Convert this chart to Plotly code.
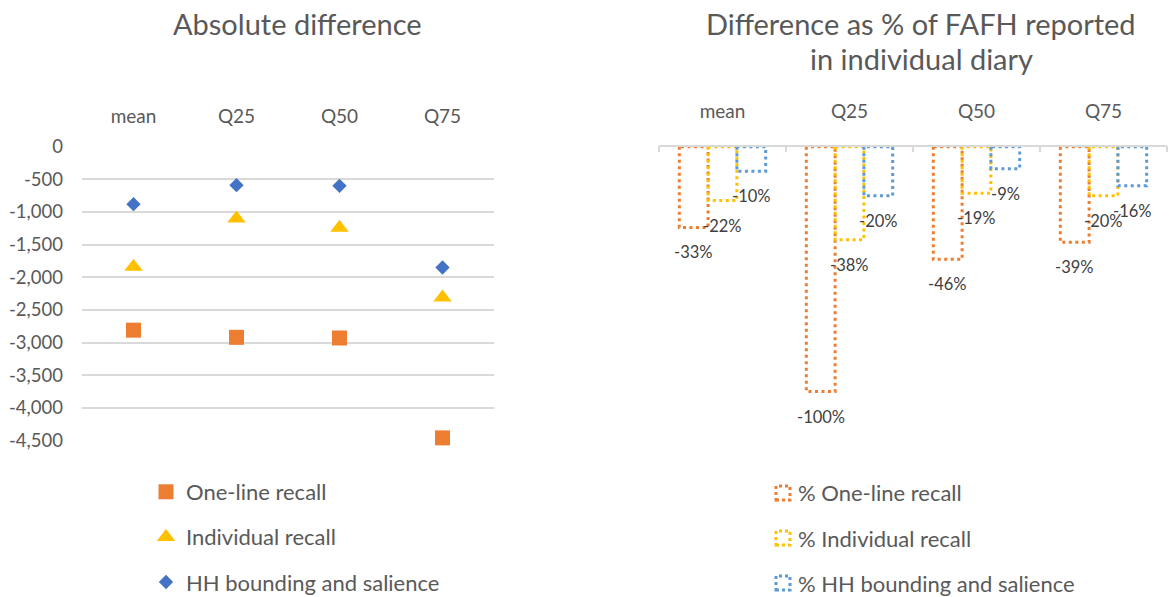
import plotly.graph_objects as go

# ---- data -------------------------------------------------------------
CATEGORIES = ["mean", "Q25", "Q50", "Q75"]

# absolute difference (left panel)
ABS_SERIES_NAMES = ["One-line recall", "Individual recall", "HH bounding and salience"]
ONE_LINE_ABS = [-2810, -2920, -2930, -4460]
INDIVIDUAL_ABS = [-1840, -1100, -1240, -2310]
HH_ABS = [-880, -590, -600, -1850]

ABS_TICK_VALUES = [0, -500, -1000, -1500, -2000, -2500, -3000, -3500, -4000, -4500]
ABS_TICK_LABELS = ["0", "-500", "-1,000", "-1,500", "-2,000", "-2,500",
                   "-3,000", "-3,500", "-4,000", "-4,500"]

# difference as % of FAFH reported in the individual diary (right panel)
PCT_SERIES_NAMES = ["% One-line recall", "% Individual recall", "% HH bounding and salience"]
ONE_LINE_PCT = [-33, -100, -46, -39]
INDIVIDUAL_PCT = [-22, -38, -19, -20]
HH_PCT = [-10, -20, -9, -16]

# ---- styling ----------------------------------------------------------
W, H = 1175, 597
FONT = "Lato"
TEXT = "#595959"
LABEL = "#404040"
GRID = "#D9D9D9"

ABS_COLORS = ["#ED7D31", "#FFC000", "#4472C4"]
ABS_SYMBOLS = ["square", "triangle-up", "diamond"]
ABS_SIZES = [15, 16, 11]
PCT_COLORS = ["#ED7D31", "#FFC000", "#5B9BD5"]

BAR_GAP = 0.32
N_SERIES = 3
BAR_W = (1 - BAR_GAP) / N_SERIES


def px_x(p):
    return p / W


def px_y(p):
    return 1 - p / H


PLOT_TOP, PLOT_BOTTOM = 146.7, 440.5

fig = go.Figure()

# ---- left panel: markers ----------------------------------------------
for name, vals, col, sym, size in zip(ABS_SERIES_NAMES,
                                      [ONE_LINE_ABS, INDIVIDUAL_ABS, HH_ABS],
                                      ABS_COLORS, ABS_SYMBOLS, ABS_SIZES):
    fig.add_trace(go.Scatter(
        x=CATEGORIES, y=vals, name=name, mode="markers",
        marker=dict(symbol=sym, size=size, color=col, line=dict(width=0)),
        xaxis="x", yaxis="y", cliponaxis=False, legendgroup=name,
    ))

# ---- right panel: dotted outline bars ----------------------------------
pct_series = [ONE_LINE_PCT, INDIVIDUAL_PCT, HH_PCT]
annotations = []
for k, (name, vals, col) in enumerate(zip(PCT_SERIES_NAMES, pct_series, PCT_COLORS)):
    xs, ys = [], []
    for i, v in enumerate(vals):
        xc = i + (k - (N_SERIES - 1) / 2) * BAR_W
        x0, x1 = xc - BAR_W / 2, xc + BAR_W / 2
        xs += [x0, x0, x1, x1, x0, None]
        ys += [0, v, v, 0, 0, None]
        annotations.append(dict(
            x=xc, y=v, xref="x2", yref="y2", text=f"{v}%", showarrow=False,
            yshift=-25, xanchor="center", yanchor="middle",
            font=dict(family=FONT, size=16.5, color=LABEL),
        ))
    fig.add_trace(go.Scatter(
        x=xs, y=ys, name=name, mode="lines", showlegend=False,
        line=dict(color=col, width=3, dash="3px,3.5px"),
        xaxis="x2", yaxis="y2", cliponaxis=False,
    ))

# ---- titles ----------------------------------------------------------
annotations += [
    dict(text="Absolute difference", x=px_x(297), y=px_y(23), xref="paper", yref="paper",
         showarrow=False, xanchor="center", yanchor="middle",
         font=dict(family=FONT, size=29, color=TEXT)),
    dict(text="Difference as % of FAFH reported", x=px_x(921), y=px_y(24),
         xref="paper", yref="paper", showarrow=False, xanchor="center", yanchor="middle",
         font=dict(family=FONT, size=29, color=TEXT)),
    dict(text="in individual diary", x=px_x(921), y=px_y(59),
         xref="paper", yref="paper", showarrow=False, xanchor="center", yanchor="middle",
         font=dict(family=FONT, size=29, color=TEXT)),
]

# ---- legend of the right panel (dotted squares) ------------------------
shapes = []
for k, (name, col) in enumerate(zip(PCT_SERIES_NAMES, PCT_COLORS)):
    cy = 493 + 45 * k
    shapes.append(dict(type="rect", xref="paper", yref="paper",
                       x0=px_x(776), x1=px_x(790), y0=px_y(cy + 7), y1=px_y(cy - 7),
                       line=dict(color=col, width=3, dash="3px,3px")))
    annotations.append(dict(text=name, x=px_x(796), y=px_y(cy), xref="paper", yref="paper",
                            showarrow=False, xanchor="left", yanchor="middle",
                            font=dict(family=FONT, size=22, color=TEXT)))

dom_y = [px_y(PLOT_BOTTOM), px_y(PLOT_TOP)]

fig.update_layout(
    width=W, height=H, margin=dict(l=0, r=0, t=0, b=0, autoexpand=False),
    paper_bgcolor="white", plot_bgcolor="white",
    font=dict(family=FONT, color=TEXT),
    xaxis=dict(domain=[px_x(82), px_x(494)], anchor="y", side="top",
               type="category", categoryorder="array", categoryarray=CATEGORIES,
               range=[-0.5, len(CATEGORIES) - 0.5], automargin=False,
               showline=False, showgrid=False, zeroline=False, ticks="",
               ticklabelstandoff=19, tickfont=dict(size=19, color=TEXT)),
    yaxis=dict(domain=dom_y, anchor="x", range=[ABS_TICK_VALUES[-1], ABS_TICK_VALUES[0]],
               tickmode="array", tickvals=ABS_TICK_VALUES, ticktext=ABS_TICK_LABELS,
               showgrid=True, gridcolor=GRID, gridwidth=1.5, zeroline=False,
               showline=False, ticks="", ticklabelstandoff=18, automargin=False,
               tickfont=dict(size=18.5, color=TEXT)),
    xaxis2=dict(domain=[px_x(659), px_x(1167)], anchor="y2", side="top", type="linear",
                range=[-0.5, len(CATEGORIES) - 0.5], automargin=False,
                tickmode="array", tickvals=list(range(len(CATEGORIES))), ticktext=CATEGORIES,
                ticks="", showgrid=False, zeroline=False,
                showline=True, linecolor=GRID, linewidth=1.5,
                minor=dict(tickmode="array",
                           tickvals=[i - 0.5 for i in range(len(CATEGORIES) + 1)],
                           ticks="inside", ticklen=6, tickwidth=1.5, tickcolor=GRID,
                           showgrid=False),
                ticklabelstandoff=19, tickfont=dict(size=19, color=TEXT)),
    yaxis2=dict(domain=dom_y, anchor="x2", range=[-120, 0], visible=False),
    legend=dict(x=px_x(146), y=px_y(471), xanchor="left", yanchor="top",
                font=dict(family=FONT, size=22, color=TEXT),
                tracegroupgap=13.5, traceorder="grouped", bgcolor="rgba(0,0,0,0)"),
    annotations=annotations,
    shapes=shapes,
    showlegend=True,
)

fig.write_html("out.html")
